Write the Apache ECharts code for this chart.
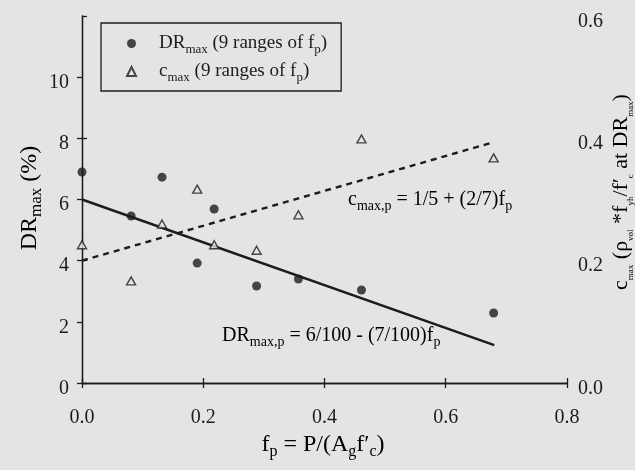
<!DOCTYPE html>
<html>
<head>
<meta charset="utf-8">
<script src="https://cdn.jsdelivr.net/npm/echarts@6/dist/echarts.min.js"></script>
<style>
  html, body { margin: 0; padding: 0; background: #e4e4e2; }
  #chart { width: 635px; height: 470px; }
</style>
</head>
<body>
<div id="chart"></div>
<script>
// Axial load ratio of each of the 9 ranges
const fpValues = [0, 0.081, 0.132, 0.19, 0.218, 0.288, 0.357, 0.461, 0.679];
// Maximum drift ratio (%) per range
const drMax = [6.9, 5.46, 6.73, 3.92, 5.69, 3.17, 3.4, 3.04, 2.29];
// Confinement index at maximum drift per range
const cMax = [0.226, 0.167, 0.26, 0.317, 0.226, 0.217, 0.275, 0.399, 0.368];

// Design lines: DR = 6/100 - (7/100) fp (in %), c = 1/5 + (2/7) fp
const fitFp = [0, 0.68];
const drFit = [6.0, 1.24];
const cFit = [0.2, 0.394];

// Tick labels
const xTickLabels = ['0.0', '0.2', '0.4', '0.6', '0.8'];
const leftTickLabels = ['0', '2', '4', '6', '8', '10', ''];
const leftTickValues = [0, 2, 4, 6, 8, 10];
const rightTickLabels = ['0.0', '0.2', '0.4', '0.6'];

const ink = '#1c1c1c';
const bg = '#e4e4e2';
const serif = "'Liberation Serif', 'DejaVu Serif', serif";

const rich = (main, sub) => ({
  m: { fontFamily: serif, fontSize: main, color: ink, lineHeight: main + 6, verticalAlign: 'middle' },
  s: { fontFamily: serif, fontSize: sub, color: ink, lineHeight: main + 6, verticalAlign: 'bottom' }
});

const chart = echarts.init(document.getElementById('chart'), null, { renderer: 'canvas' });

const axisCommon = {
  axisLine: { show: true, lineStyle: { color: ink, width: 1.3 } },
  axisTick: { show: true, inside: false, length: 5, lineStyle: { color: ink, width: 1.3 } },
  splitLine: { show: false }
};

const option = {
  backgroundColor: bg,
  animation: false,
  grid: { left: 82, right: 68, top: 16, bottom: 87 },
  xAxis: [
    Object.assign({}, axisCommon, {
      type: 'value', position: 'bottom', min: 0, max: 0.8, interval: 0.2,
      axisLabel: {
        margin: 25, fontFamily: serif, fontSize: 20, color: ink,
        formatter: v => xTickLabels[Math.round(v / 0.2)]
      }
    }),
    Object.assign({}, axisCommon, {
      type: 'value', position: 'top', min: 0, max: 0.8, interval: 0.2,
      axisLabel: { show: false }
    })
  ],
  yAxis: [
    Object.assign({}, axisCommon, {
      type: 'value', position: 'left', min: 0, max: 12, interval: 2,
      axisTick: Object.assign({}, axisCommon.axisTick, { customValues: leftTickValues }),
      axisLabel: {
        margin: 13, fontFamily: serif, fontSize: 20, color: ink,
        verticalAlign: 'top', lineHeight: 11,
        formatter: v => leftTickLabels[Math.round(v / 2)]
      }
    }),
    Object.assign({}, axisCommon, {
      type: 'value', position: 'right', min: 0, max: 0.6, interval: 0.2,
      axisLabel: {
        margin: 11, fontFamily: serif, fontSize: 20, color: ink,
        verticalAlign: 'top', lineHeight: 11,
        formatter: v => rightTickLabels[Math.round(v / 0.2)]
      }
    })
  ],
  legend: {
    left: 101, top: 23, orient: 'vertical',
    padding: [11, 14, 7, 25], itemGap: 6,
    itemWidth: 9, itemHeight: 9,
    borderColor: ink, borderWidth: 1.3, borderRadius: 0,
    backgroundColor: bg,
    data: ['DRmax', 'cmax'],
    formatter: name => name === 'DRmax'
      ? '{m|DR}{s|max}{m| (9 ranges of f}{s|p}{m|)}'
      : '{m|c}{s|max}{m| (9 ranges of f}{s|p}{m|)}',
    textStyle: { padding: [0, 0, 0, 18], rich: rich(19, 13) }
  },
  series: [
    {
      name: 'DRmax', type: 'scatter', xAxisIndex: 0, yAxisIndex: 0,
      symbol: 'circle', symbolSize: 9,
      itemStyle: { color: ink },
      data: fpValues.map((f, i) => [f, drMax[i]]),
      z: 5
    },
    {
      name: 'cmax', type: 'scatter', xAxisIndex: 0, yAxisIndex: 1,
      symbol: 'triangle', symbolSize: [9, 8],
      itemStyle: { color: bg, borderColor: ink, borderWidth: 1.4 },
      data: fpValues.map((f, i) => [f, cMax[i]]),
      z: 5
    },
    {
      name: 'DR fit', type: 'line', xAxisIndex: 0, yAxisIndex: 0,
      showSymbol: false, symbol: 'none',
      lineStyle: { color: ink, width: 2.4, type: 'solid' },
      data: fitFp.map((f, i) => [f, drFit[i]]),
      z: 3
    },
    {
      name: 'c fit', type: 'line', xAxisIndex: 0, yAxisIndex: 1,
      showSymbol: false, symbol: 'none',
      lineStyle: { color: ink, width: 2.4, type: [6, 5] },
      data: fitFp.map((f, i) => [f, cFit[i]]),
      z: 3
    }
  ],
  graphic: [
    {
      type: 'text', left: 348, top: 190,
      style: { text: '{m|c}{s|max,p}{m| = 1/5 + (2/7)f}{s|p}', rich: rich(20, 14) }
    },
    {
      type: 'text', left: 222, top: 326,
      style: { text: '{m|DR}{s|max,p}{m| = 6/100 - (7/100)f}{s|p}', rich: rich(20, 14) }
    },
    {
      type: 'text', x: 30, y: 198, rotation: Math.PI / 2,
      style: {
        text: '{m|DR}{s|max}{m| (%)}', rich: rich(24, 17),
        align: 'center', verticalAlign: 'middle'
      }
    },
    {
      type: 'text', x: 323, y: 445,
      style: {
        text: '{m|f}{s|p}{m| = P/(A}{s|g}{m|f′}{s|c}{m|)}', rich: rich(24, 16),
        align: 'center', verticalAlign: 'middle'
      }
    },
    {
      type: 'text', x: 621, y: 192, rotation: Math.PI / 2,
      style: {
        text: '{m|c}{s|max}{m| (ρ}{s|vol}{m| *f}{s|yh}{m|/f′}{s|c}{m| at DR}{s|max}{m|)}',
        rich: rich(22, 9),
        align: 'center', verticalAlign: 'middle'
      }
    }
  ]
};

chart.setOption(option);
</script>
</body>
</html>
